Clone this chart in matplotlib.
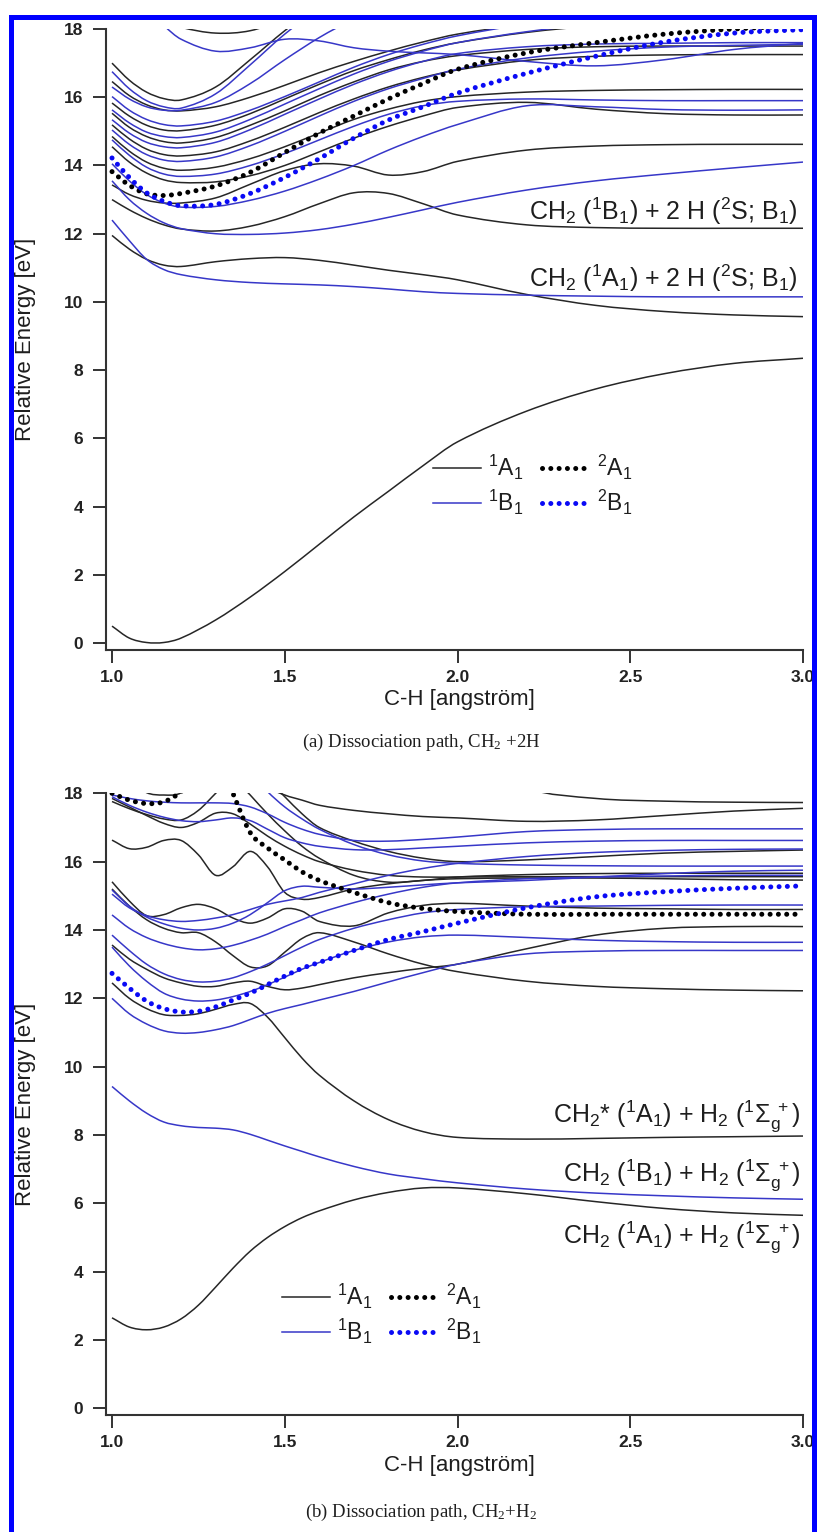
import numpy as np
import matplotlib
matplotlib.use("Agg")
import matplotlib.pyplot as plt
from matplotlib.path import Path
from matplotlib.patches import PathPatch, Rectangle
from matplotlib.lines import Line2D

plt.rcParams['font.family'] = ['Liberation Sans', 'DejaVu Sans']
plt.rcParams['mathtext.fontset'] = 'custom'
plt.rcParams['mathtext.rm'] = 'Liberation Sans'
plt.rcParams['mathtext.it'] = 'Liberation Sans:italic'
plt.rcParams['mathtext.bf'] = 'Liberation Sans:bold'
plt.rcParams['mathtext.default'] = 'regular'

# ---------------- data: panel (a) CH2 + 2H ----------------
a_x = [1.0, 1.05, 1.1, 1.15, 1.2, 1.3, 1.4, 1.5, 1.6, 1.7, 1.8, 1.9, 2.0, 2.2, 2.4, 2.6, 2.8, 3.0]

a_1A1 = [
    [0.50, 0.15, 0.02, 0.02, 0.15, 0.68, 1.35, 2.10, 2.90, 3.70, 4.45, 5.20, 5.90, 6.80, 7.45, 7.90, 8.20, 8.35],
    [11.95, 11.55, 11.25, 11.08, 11.04, 11.18, 11.27, 11.30, 11.22, 11.08, 10.93, 10.80, 10.65, 10.22, 9.90, 9.72, 9.62, 9.57],
    [13.00, 12.70, 12.45, 12.26, 12.14, 12.08, 12.22, 12.50, 12.88, 13.20, 13.18, 12.88, 12.55, 12.26, 12.18, 12.16, 12.16, 12.16],
    [13.43, 13.15, 12.98, 12.90, 12.90, 13.05, 13.45, 13.85, 14.05, 13.98, 13.72, 13.82, 14.12, 14.45, 14.57, 14.61, 14.62, 14.62],
    [14.55, 14.10, 13.78, 13.58, 13.50, 13.52, 13.70, 14.00, 14.40, 14.80, 15.15, 15.45, 15.70, 15.85, 15.65, 15.52, 15.48, 15.48],
    [14.85, 14.42, 14.10, 13.92, 13.86, 13.95, 14.20, 14.55, 14.95, 15.35, 15.65, 15.88, 16.02, 16.15, 16.20, 16.22, 16.23, 16.23],
    [15.19, 14.78, 14.48, 14.32, 14.28, 14.40, 14.72, 15.12, 15.55, 15.95, 16.30, 16.58, 16.80, 17.08, 17.20, 17.24, 17.25, 17.25],
    [15.53, 15.12, 14.85, 14.70, 14.66, 14.82, 15.18, 15.60, 16.05, 16.45, 16.80, 17.05, 17.22, 17.40, 17.48, 17.50, 17.50, 17.50],
    [15.83, 15.45, 15.18, 15.04, 15.02, 15.18, 15.52, 15.95, 16.38, 16.78, 17.10, 17.38, 17.60, 17.90, 18.10, 18.25, 18.35, 18.40],
    [16.46, 16.05, 15.78, 15.63, 15.60, 15.72, 16.00, 16.35, 16.72, 17.05, 17.35, 17.62, 17.85, 18.15, 18.40, 18.50, 18.55, 18.60],
    [17.00, 16.50, 16.15, 15.96, 15.92, 16.30, 17.10, 17.95, 18.70, 19.30, 19.80, 20.0, 20.0, 20.0, 20.0, 20.0, 20.0, 20.0],
    [19.00, 18.80, 18.50, 18.25, 18.05, 17.88, 17.95, 18.30, 18.80, 19.20, 19.50, 19.5, 19.5, 19.5, 19.5, 19.5, 19.5, 19.5],
]

a_1B1 = [
    [12.40, 11.80, 11.25, 10.95, 10.80, 10.65, 10.57, 10.53, 10.50, 10.45, 10.38, 10.30, 10.25, 10.20, 10.17, 10.15, 10.15, 10.15],
    [13.55, 13.00, 12.60, 12.32, 12.15, 12.00, 11.98, 12.02, 12.12, 12.28, 12.48, 12.70, 12.92, 13.28, 13.55, 13.75, 13.93, 14.10],
    [14.05, 13.55, 13.15, 12.90, 12.78, 12.80, 12.98, 13.25, 13.60, 14.00, 14.45, 14.85, 15.20, 15.75, 15.72, 15.64, 15.62, 15.63],
    [14.75, 14.30, 13.95, 13.75, 13.68, 13.75, 14.00, 14.35, 14.75, 15.15, 15.50, 15.75, 15.88, 15.95, 15.92, 15.90, 15.90, 15.90],
    [15.04, 14.62, 14.32, 14.16, 14.12, 14.25, 14.58, 15.00, 15.45, 15.88, 16.25, 16.55, 16.82, 17.15, 17.35, 17.47, 17.52, 17.55],
    [15.34, 14.95, 14.68, 14.55, 14.52, 14.68, 15.05, 15.50, 15.95, 16.38, 16.75, 17.05, 17.28, 17.48, 17.56, 17.58, 17.60, 17.60],
    [15.63, 15.25, 14.98, 14.85, 14.82, 14.98, 15.35, 15.80, 16.25, 16.68, 17.05, 17.35, 17.60, 17.92, 18.15, 18.30, 18.40, 18.45],
    [16.02, 15.62, 15.35, 15.20, 15.16, 15.30, 15.62, 16.02, 16.45, 16.88, 17.25, 17.55, 17.80, 18.15, 18.40, 18.50, 18.55, 18.60],
    [16.30, 15.95, 15.72, 15.62, 15.62, 15.85, 16.40, 17.10, 17.75, 18.30, 18.80, 19.0, 19.0, 19.0, 19.0, 19.0, 19.0, 19.0],
    [16.75, 16.25, 15.90, 15.72, 15.68, 16.10, 16.95, 17.85, 18.60, 19.20, 19.60, 20.0, 20.0, 20.0, 20.0, 20.0, 20.0, 20.0],
    [19.00, 19.00, 18.60, 18.10, 17.70, 17.35, 17.45, 17.70, 17.65, 17.45, 17.35, 17.30, 17.25, 17.05, 16.92, 17.10, 17.40, 17.58],
]

a_2A1 = [13.82, 13.42, 13.17, 13.12, 13.18, 13.40, 13.80, 14.38, 14.95, 15.45, 15.95, 16.40, 16.82, 17.30, 17.60, 17.85, 18.00, 18.10]
a_2B1 = [14.22, 13.65, 13.20, 12.95, 12.82, 12.86, 13.18, 13.65, 14.20, 14.80, 15.33, 15.72, 16.12, 16.70, 17.20, 17.62, 17.88, 17.98]

# ---------------- data: panel (b) CH2 + H2 ----------------
b_x = [1.0, 1.05, 1.1, 1.15, 1.2, 1.25, 1.3, 1.35, 1.4, 1.45, 1.5, 1.55, 1.6, 1.7, 1.8, 1.9, 2.0, 2.2, 2.4, 2.6, 2.8, 3.0]

b_1A1 = [
    [2.65, 2.38, 2.30, 2.38, 2.62, 3.02, 3.55, 4.10, 4.60, 5.00, 5.32, 5.58, 5.78, 6.10, 6.32, 6.45, 6.45, 6.28, 6.05, 5.85, 5.72, 5.65],
    [12.45, 12.00, 11.70, 11.52, 11.50, 11.55, 11.68, 11.82, 11.85, 11.45, 10.85, 10.25, 9.75, 9.00, 8.45, 8.10, 7.93, 7.88, 7.90, 7.93, 7.95, 7.97],
    [16.63, 16.38, 16.42, 16.62, 16.62, 16.20, 15.60, 15.85, 16.30, 15.85, 15.10, 14.90, 14.95, 15.20, 15.35, 15.45, 15.50, 15.52, 15.52, 15.50, 15.47, 15.46],
    [15.41, 14.85, 14.42, 14.45, 14.65, 14.75, 14.62, 14.35, 14.20, 14.35, 14.62, 14.55, 14.25, 14.12, 14.50, 14.72, 14.78, 14.70, 14.64, 14.62, 14.60, 14.60],
    [15.20, 14.70, 14.30, 14.05, 13.92, 13.92, 13.65, 13.25, 12.92, 12.95, 13.35, 13.75, 13.92, 13.65, 13.30, 13.00, 12.78, 12.50, 12.35, 12.28, 12.24, 12.22],
    [13.56, 13.15, 12.85, 12.60, 12.45, 12.35, 12.35, 12.45, 12.50, 12.35, 12.25, 12.30, 12.40, 12.60, 12.75, 12.88, 13.00, 13.45, 13.85, 14.05, 14.10, 14.10],
    [19.0, 19.0, 19.0, 19.0, 19.0, 19.0, 19.0, 19.0, 18.80, 18.20, 17.95, 17.80, 17.65, 17.50, 17.40, 17.32, 17.28, 17.18, 17.22, 17.35, 17.48, 17.56],
    [20.0, 20.0, 20.0, 20.0, 20.0, 20.0, 20.0, 19.5, 18.90, 18.40, 17.90, 17.40, 17.00, 16.60, 16.30, 16.10, 16.00, 16.05, 16.15, 16.25, 16.30, 16.34],
    [20.0, 20.0, 20.0, 20.0, 20.0, 20.0, 20.0, 20.0, 20.0, 20.0, 20.0, 20.0, 20.0, 20.0, 20.0, 19.8, 19.2, 18.15, 17.85, 17.77, 17.74, 17.73],
    [20.0, 20.0, 20.0, 20.0, 20.0, 20.0, 19.5, 18.50, 17.95, 17.40, 16.90, 16.45, 16.10, 15.60, 15.40, 15.45, 15.55, 15.62, 15.65, 15.66, 15.66, 15.66],
    [17.76, 17.55, 17.38, 17.25, 17.22, 17.50, 18.00, 18.50, 19.0, 19.5, 20.0, 20.0, 20.0, 20.0, 20.0, 20.0, 20.0, 20.0, 20.0, 20.0, 20.0, 20.0],
    [17.85, 17.60, 17.35, 17.12, 17.00, 17.15, 17.42, 17.40, 17.10, 16.75, 16.45, 16.20, 16.00, 15.75, 15.60, 15.55, 15.55, 15.56, 15.56, 15.56, 15.56, 15.56],
    [19.0, 18.40, 18.02, 17.95, 18.02, 18.60, 19.20, 20.0, 20.0, 20.0, 20.0, 20.0, 20.0, 20.0, 20.0, 20.0, 20.0, 20.0, 20.0, 20.0, 20.0, 20.0],
]

b_1B1 = [
    [9.42, 9.00, 8.64, 8.38, 8.27, 8.22, 8.20, 8.15, 8.02, 7.85, 7.68, 7.52, 7.36, 7.08, 6.86, 6.72, 6.60, 6.42, 6.30, 6.22, 6.16, 6.12],
    [12.00, 11.55, 11.25, 11.05, 10.98, 11.00, 11.08, 11.20, 11.38, 11.56, 11.70, 11.82, 11.95, 12.20, 12.48, 12.75, 13.00, 13.30, 13.38, 13.40, 13.40, 13.40],
    [13.50, 12.95, 12.50, 12.15, 11.98, 11.92, 11.95, 12.05, 12.20, 12.40, 12.62, 12.85, 13.05, 13.40, 13.65, 13.80, 13.85, 13.78, 13.70, 13.66, 13.64, 13.64],
    [13.85, 13.40, 13.00, 12.72, 12.55, 12.48, 12.50, 12.60, 12.78, 13.00, 13.25, 13.50, 13.72, 14.05, 14.30, 14.50, 14.60, 14.68, 14.70, 14.72, 14.73, 14.73],
    [14.44, 14.05, 13.78, 13.60, 13.48, 13.42, 13.45, 13.55, 13.70, 13.88, 14.10, 14.30, 14.50, 14.80, 15.05, 15.25, 15.38, 15.50, 15.55, 15.58, 15.60, 15.60],
    [15.17, 14.70, 14.38, 14.18, 14.05, 14.00, 14.05, 14.20, 14.45, 14.80, 15.15, 15.28, 15.25, 15.20, 15.25, 15.32, 15.38, 15.45, 15.55, 15.65, 15.72, 15.75],
    [15.05, 14.65, 14.42, 14.30, 14.25, 14.28, 14.35, 14.45, 14.60, 14.75, 14.85, 14.95, 15.10, 15.35, 15.60, 15.80, 15.95, 16.15, 16.27, 16.33, 16.36, 16.37],
    [17.90, 17.65, 17.45, 17.30, 17.20, 17.17, 17.22, 17.28, 17.20, 16.95, 16.70, 16.55, 16.45, 16.35, 16.35, 16.40, 16.45, 16.55, 16.60, 16.62, 16.62, 16.62],
    [17.95, 17.85, 17.78, 17.74, 17.72, 17.72, 17.72, 17.70, 17.60, 17.40, 17.15, 16.95, 16.80, 16.62, 16.60, 16.65, 16.72, 16.88, 16.94, 16.96, 16.96, 16.96],
    [20.0, 20.0, 20.0, 20.0, 20.0, 20.0, 20.0, 19.5, 18.60, 18.05, 17.60, 17.25, 16.95, 16.50, 16.20, 16.02, 15.95, 15.90, 15.88, 15.87, 15.87, 15.87],
]

b_2A1 = [18.00, 17.80, 17.70, 17.75, 18.05, 18.60, 19.20, 18.00, 16.85, 16.40, 16.05, 15.70, 15.45, 15.10, 14.80, 14.63, 14.54, 14.46, 14.46, 14.46, 14.46, 14.46]
b_2B1 = [12.73, 12.30, 11.92, 11.70, 11.60, 11.62, 11.75, 11.95, 12.15, 12.40, 12.65, 12.88, 13.05, 13.40, 13.72, 13.95, 14.20, 14.65, 14.97, 15.12, 15.22, 15.29]

x_ticks = [1.0, 1.5, 2.0, 2.5, 3.0]
y_ticks = [0, 2, 4, 6, 8, 10, 12, 14, 16, 18]

a_labels = [r'CH$_2$ ($^1$B$_1$) + 2 H ($^2$S; B$_1$)',
            r'CH$_2$ ($^1$A$_1$) + 2 H ($^2$S; B$_1$)']
a_label_E = [12.40, 10.45]
b_labels = [r'CH$_2$* ($^1$A$_1$) + H$_2$ ($^1\Sigma_g^{\ +}$)',
            r'CH$_2$ ($^1$B$_1$) + H$_2$ ($^1\Sigma_g^{\ +}$)',
            r'CH$_2$ ($^1$A$_1$) + H$_2$ ($^1\Sigma_g^{\ +}$)']
b_label_E = [8.39, 6.64, 4.83]
legend_labels = [r'$^1$A$_1$', r'$^1$B$_1$', r'$^2$A$_1$', r'$^2$B$_1$']

# ---------------- styling ----------------
W, H, DPI = 818, 1532, 100
C_BLACK = '#262626'
C_BLUE = '#3737c8'
C_DOT_K = '#000000'
C_DOT_B = '#0a0af5'
C_TEXT = '#1e1e1e'
LW = 1.1
DOT_LW = 3.6
DOT_STYLE = (0, (0.01, 1.65))

fig = plt.figure(figsize=(W / DPI, H / DPI), dpi=DPI)
fig.patch.set_facecolor('white')


def px_axes(left, top, right, bottom):
    return fig.add_axes([left / W, 1 - bottom / H, (right - left) / W, (bottom - top) / H])


def smooth_path(x, y):
    x = np.asarray(x, float)
    y = np.asarray(y, float)
    n = len(x)
    m = np.empty(n)
    m[0] = (y[1] - y[0]) / (x[1] - x[0])
    m[-1] = (y[-1] - y[-2]) / (x[-1] - x[-2])
    m[1:-1] = (y[2:] - y[:-2]) / (x[2:] - x[:-2])
    verts = [(x[0], y[0])]
    codes = [Path.MOVETO]
    for i in range(n - 1):
        h = x[i + 1] - x[i]
        verts += [(x[i] + h / 3, y[i] + m[i] * h / 3),
                  (x[i + 1] - h / 3, y[i + 1] - m[i + 1] * h / 3),
                  (x[i + 1], y[i + 1])]
        codes += [Path.CURVE4] * 3
    return Path(verts, codes)


def draw_curve(ax, xs, ys, color, lw, dotted=False, z=2):
    kw = dict(fill=False, edgecolor=color, linewidth=lw, zorder=z)
    if dotted:
        kw.update(linestyle=DOT_STYLE, capstyle='round')
    ax.add_patch(PathPatch(smooth_path(xs, ys), **kw))


def style_axes(ax):
    ax.set_xlim(0.9826, 3.0)
    ax.set_ylim(-0.2, 18.0)
    ax.spines['top'].set_visible(False)
    ax.spines['right'].set_visible(False)
    for s in ('left', 'bottom'):
        ax.spines[s].set_linewidth(1.5)
        ax.spines[s].set_color('#333333')
    ax.set_xticks(x_ticks)
    ax.set_xticklabels(['%.1f' % v for v in x_ticks])
    ax.set_yticks(y_ticks)
    ax.set_yticklabels([str(v) for v in y_ticks])
    ax.tick_params(axis='both', direction='out', length=9.4, width=1.4, color='#333333',
                   labelsize=12.5, labelcolor='#222222')
    ax.tick_params(axis='x', pad=5.0)
    ax.tick_params(axis='y', pad=7.0)
    for lab in ax.get_xticklabels() + ax.get_yticklabels():
        lab.set_fontweight('bold')
    ax.patch.set_alpha(0)


def add_legend(ax, left_px, top_px, ax_left, ax_top, ax_w, ax_h):
    handles = [Line2D([], [], color=C_BLACK, lw=LW),
               Line2D([], [], color=C_BLUE, lw=LW),
               Line2D([], [], color=C_DOT_K, lw=DOT_LW, linestyle=DOT_STYLE, dash_capstyle='round'),
               Line2D([], [], color=C_DOT_B, lw=DOT_LW, linestyle=DOT_STYLE, dash_capstyle='round')]
    fx = (left_px - ax_left) / ax_w
    fy = 1 - (top_px - ax_top) / ax_h
    ax.legend(handles, legend_labels, ncol=2, loc='upper left', bbox_to_anchor=(fx, fy),
              frameon=False, fontsize=16.5, handlelength=2.1, handletextpad=0.3,
              columnspacing=0.8, labelspacing=0.25, borderpad=0, borderaxespad=0,
              labelcolor=C_TEXT)


# ---------------- panel (a) ----------------
A_L, A_T, A_R, A_B = 106, 29, 803, 650
ax_a = px_axes(A_L, A_T, A_R, A_B)
style_axes(ax_a)
for ys in a_1A1:
    draw_curve(ax_a, a_x, ys, C_BLACK, LW)
for ys in a_1B1:
    draw_curve(ax_a, a_x, ys, C_BLUE, LW)
draw_curve(ax_a, a_x, a_2A1, C_DOT_K, DOT_LW, dotted=True, z=3)
draw_curve(ax_a, a_x, a_2B1, C_DOT_B, DOT_LW, dotted=True, z=3)
for lab, e in zip(a_labels, a_label_E):
    ax_a.text(2.9855, e, lab, ha='right', va='baseline', fontsize=18, color=C_TEXT)
add_legend(ax_a, 433, 453, A_L, A_T, A_R - A_L, A_B - A_T)

# ---------------- panel (b) ----------------
B_L, B_T, B_R, B_B = 106, 793.3, 803, 1415.2
ax_b = px_axes(B_L, B_T, B_R, B_B)
style_axes(ax_b)
for ys in b_1A1:
    draw_curve(ax_b, b_x, ys, C_BLACK, LW)
for ys in b_1B1:
    draw_curve(ax_b, b_x, ys, C_BLUE, LW)
draw_curve(ax_b, b_x, b_2A1, C_DOT_K, DOT_LW, dotted=True, z=3)
draw_curve(ax_b, b_x, b_2B1, C_DOT_B, DOT_LW, dotted=True, z=3)
for lab, e in zip(b_labels, b_label_E):
    ax_b.text(2.993, e, lab, ha='right', va='baseline', fontsize=18, color=C_TEXT)
add_legend(ax_b, 282, 1282, B_L, B_T, B_R - B_L, B_B - B_T)

# ---------------- axis labels and captions ----------------
for yc in ((A_T + A_B) / 2, (B_T + B_B) / 2):
    fig.text(26 / W, 1 - yc / H, 'Relative Energy [eV]', rotation=90, ha='center', va='center',
             fontsize=16, color=C_TEXT)
fig.text(459 / W, 1 - 700 / H, 'C-H [angström]', ha='center', va='center', fontsize=16, color=C_TEXT)
fig.text(459 / W, 1 - 1466 / H, 'C-H [angström]', ha='center', va='center', fontsize=16, color=C_TEXT)
fig.text(421 / W, 1 - 742 / H, r'(a) Dissociation path, CH$_2$ +2H', ha='center', va='center',
         fontsize=13.5, family='Liberation Serif', math_fontfamily='stix', color=C_TEXT)
fig.text(421 / W, 1 - 1512 / H, r'(b) Dissociation path, CH$_2$+H$_2$', ha='center', va='center',
         fontsize=13.5, family='Liberation Serif', math_fontfamily='stix', color=C_TEXT)

# blue frame around figure
frame = Rectangle((10.5 / W, -0.02), (813.7 - 10.5) / W, 1 - 17 / H + 0.02, transform=fig.transFigure,
                  fill=False, edgecolor='#0000ff', linewidth=3.6, zorder=10, clip_on=False)
fig.add_artist(frame)

fig.savefig('out.png', dpi=DPI, facecolor='white')
